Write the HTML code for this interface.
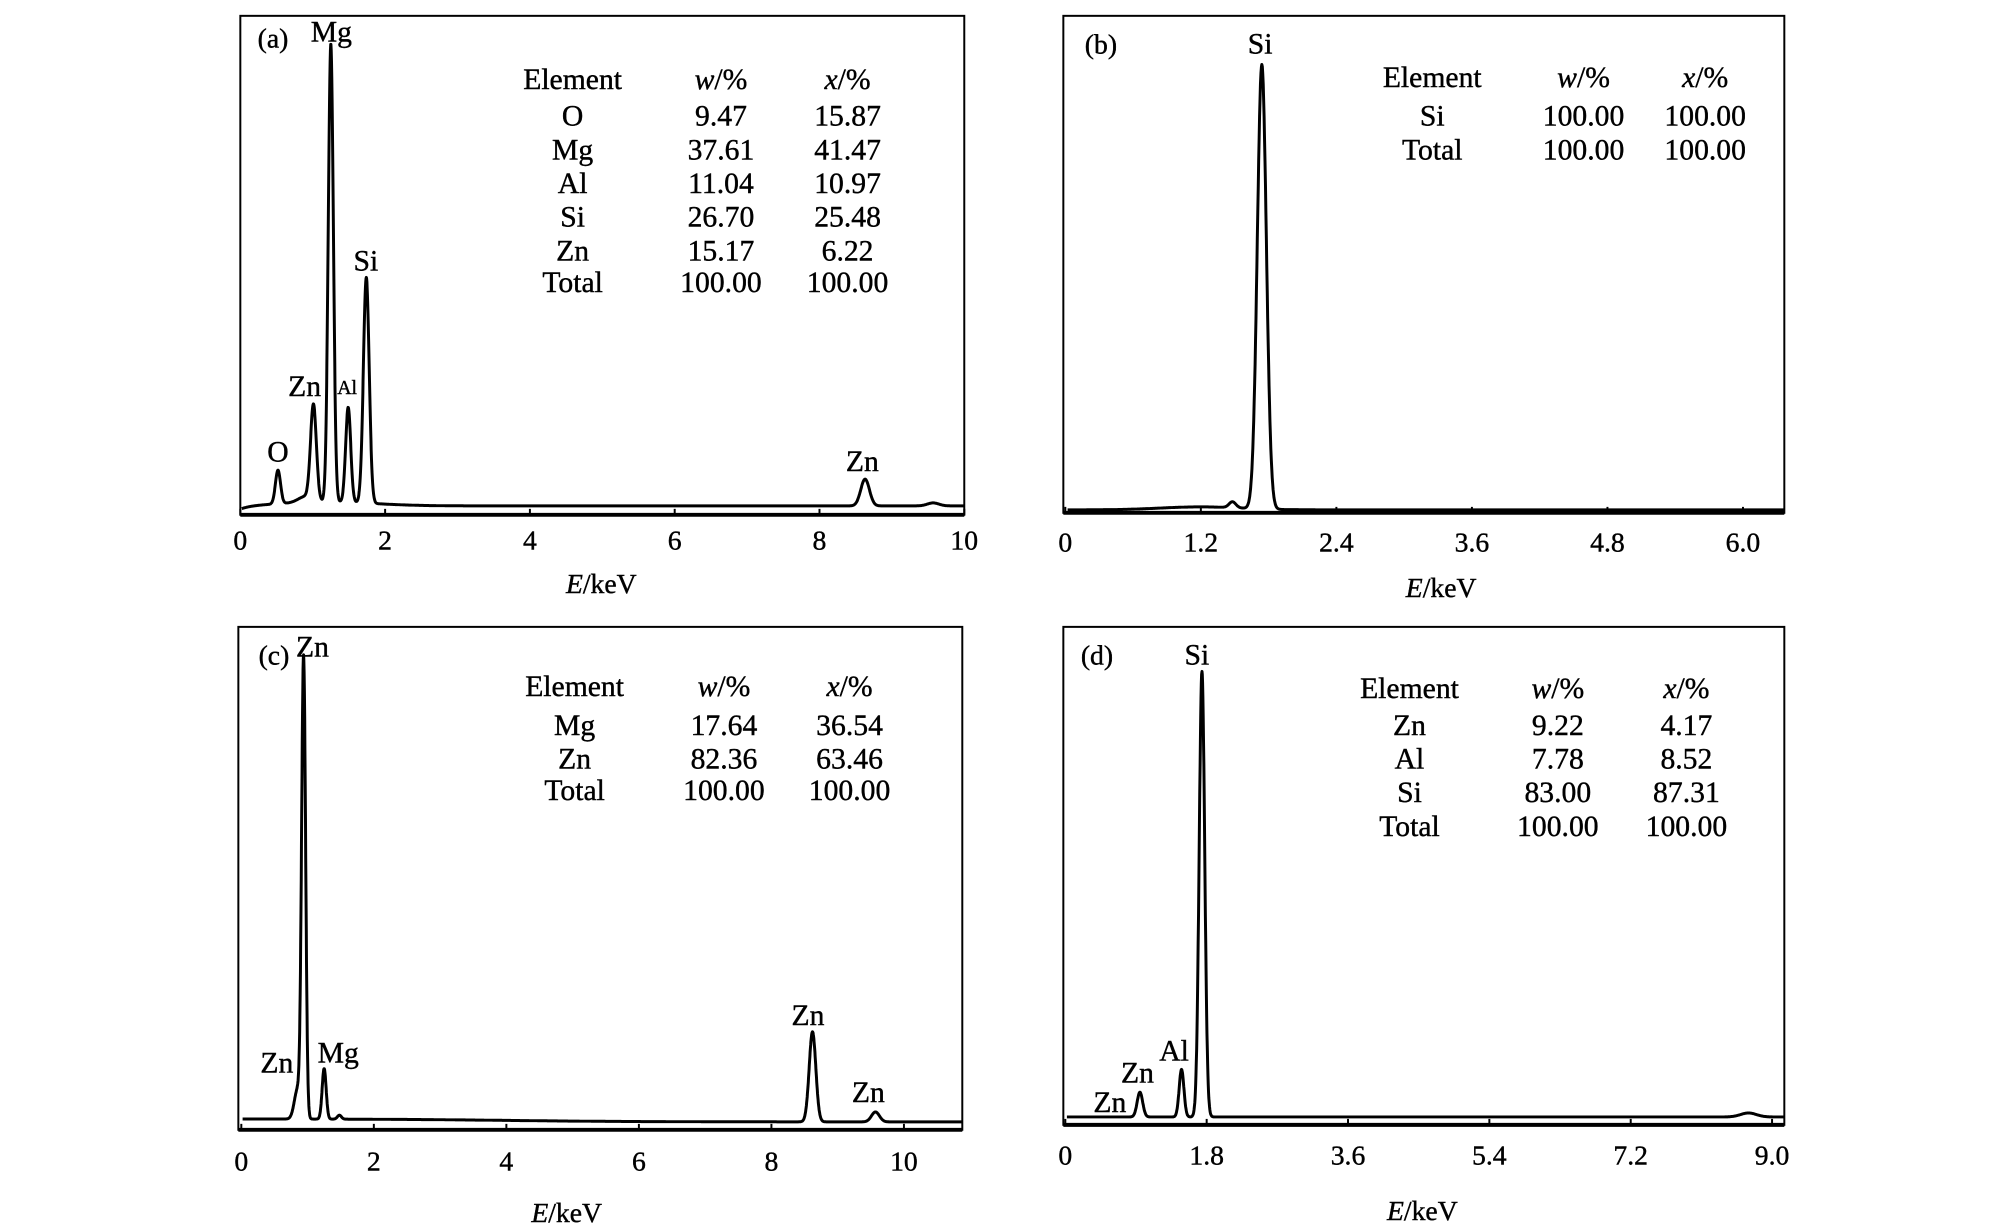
<!DOCTYPE html>
<html><head><meta charset="utf-8"><style>
body{margin:0;background:#fff}
svg{display:block}
text{font-family:"Liberation Serif",serif;fill:#000;stroke:#000;stroke-width:0.4}
</style></head><body>
<svg id="s" width="2008" height="1231" viewBox="0 0 2008 1231" xmlns="http://www.w3.org/2000/svg">
</svg>
<script>
const S=document.getElementById('s');let g;
function el(t,a,txt){const e=document.createElementNS('http://www.w3.org/2000/svg',t);for(const k in a)e.setAttribute(k,a[k]);if(txt!==undefined)e.textContent=txt;g.appendChild(e);return e;}
function txt(x,y,s,size){const e=el('text',{x:x,y:y,'font-size':size,'text-anchor':'middle'});e.innerHTML=s;return e;}
function panel(P){
  g=document.createElementNS('http://www.w3.org/2000/svg','g');
  const ox=P.off[0],oy=P.off[1];
  g.setAttribute('transform',`translate(${ox} ${oy}) scale(0.989 0.990) translate(${-ox} ${-oy})`);
  S.appendChild(g);
  el('rect',{x:P.L,y:P.T,width:P.R-P.L,height:P.B-P.T,fill:'none',stroke:'#000','stroke-width':2});
  el('line',{x1:P.L,y1:P.B,x2:P.R,y2:P.B,stroke:'#000','stroke-width':4});
  P.ticks.forEach((t,i)=>{const x=P.x0+t*P.k;el('line',{x1:x,y1:P.B,x2:x,y2:P.B-6,stroke:'#000','stroke-width':2});txt(x,P.ty,P.tl[i],28);});
  txt(P.xlx,P.xly,'<tspan font-style="italic">E</tspan>/keV',28);
  let d='';const e1=(P.R-P.x0)/P.k;
  for(let e=0.02;e<=e1;e+=0.004){
    let h=P.base(e);
    P.peaks.forEach(p=>{h+=p[1]*Math.exp(-0.5*Math.pow((e-p[0])/p[2],2));});
    const x=P.x0+e*P.k,y=P.yb-h;
    d+=(d?'L':'M')+x.toFixed(1)+' '+y.toFixed(1);
  }
  el('path',{d:d,fill:'none',stroke:'#000','stroke-width':3,'stroke-linejoin':'round'});
  P.labels.forEach(l=>txt(l[0],l[1],l[2],l[3]||30));
  const c=P.cols;
  P.rows.forEach((r,i)=>{const y=P.rowY[i];
    if(i==0){txt(c[0],y,'Element',30);txt(c[1],y,'<tspan font-style="italic">w</tspan>/%',30);txt(c[2],y,'<tspan font-style="italic">x</tspan>/%',30);}
    else{txt(c[0],y,r[0],30);txt(c[1],y,r[1],30);txt(c[2],y,r[2],30);}
  });
}
// (a)
panel({off:[0,0],L:243,R:975,T:16,B:520,x0:243,k:73.2,yb:515,ty:555,tl:['0','2','4','6','8','10'],ticks:[0,2,4,6,8,10],
 xlx:608,xly:599,base:e=>4*(1-Math.exp(-e/0.15))+4*Math.exp(-Math.pow((e-1.2)/0.9,2)),
 peaks:[[0.52,34,0.035],[1.01,96,0.04],[1.25,463,0.035],[1.49,96,0.035],[1.74,228,0.04],[8.63,27,0.06],[9.57,3,0.08],[0.9,6,0.1]],
 labels:[[276,48,'(a)',28],[335,42,'Mg'],[370,273,'Si'],[308,400,'Zn'],[351,398,'Al',20],[281,466,'O'],[872,476,'Zn']],
 cols:[579,729,857],rowY:[90,127,161,195,229,263,295],
 rows:[[],['O','9.47','15.87'],['Mg','37.61','41.47'],['Al','11.04','10.97'],['Si','26.70','25.48'],['Zn','15.17','6.22'],['Total','100.00','100.00']]});
// (b)
panel({off:[1004,0],L:1064,R:1793,T:16,B:518,x0:1066,k:114.2,yb:515,ty:557,tl:['0','1.2','2.4','3.6','4.8','6.0'],ticks:[0,1.2,2.4,3.6,4.8,6.0],
 xlx:1446,xly:603,base:e=>3*Math.exp(-Math.pow((e-1.2)/0.5,2)),
 peaks:[[1.74,449,0.04],[1.48,6,0.03]],
 labels:[[1102,54,'(b)',28],[1263,54,'Si']],
 cols:[1437,1590,1713],rowY:[88,127,161],
 rows:[[],['Si','100.00','100.00'],['Total','100.00','100.00']]});
// (c)
panel({off:[0,615],L:241,R:973,T:627,B:1135,x0:244,k:67,yb:1130,ty:1176,tl:['0','2','4','6','8','10'],ticks:[0,2,4,6,8,10],
 xlx:573,xly:1228,base:e=>3+3/(1+Math.exp((e-4)/1)),
 peaks:[[0.94,463,0.03],[0.85,30,0.05],[1.25,51,0.03],[1.48,4,0.03],[8.62,91,0.05],[9.57,10,0.06]],
 labels:[[277,665,'(c)',28],[316,657,'Zn'],[280,1077,'Zn'],[342,1067,'Mg'],[817,1029,'Zn'],[878,1107,'Zn']],
 cols:[581,732,859],rowY:[697,736,770,802],
 rows:[[],['Mg','17.64','36.54'],['Zn','82.36','63.46'],['Total','100.00','100.00']]});
// (d)
panel({off:[1004,615],L:1064,R:1793,T:627,B:1130,x0:1066,k:79.4,yb:1125,ty:1170,tl:['0','1.8','3.6','5.4','7.2','9.0'],ticks:[0,1.8,3.6,5.4,7.2,9.0],
 xlx:1427,xly:1226,base:e=>3,
 peaks:[[1.74,450,0.035],[1.48,48,0.03],[0.95,25,0.035],[8.7,4,0.1]],
 labels:[[1098,665,'(d)',28],[1199,665,'Si'],[1176,1065,'Al'],[1139,1087,'Zn'],[1111,1117,'Zn']],
 cols:[1414,1564,1694],rowY:[699,736,770,804,838],
 rows:[[],['Zn','9.22','4.17'],['Al','7.78','8.52'],['Si','83.00','87.31'],['Total','100.00','100.00']]});
</script>
</body></html>
